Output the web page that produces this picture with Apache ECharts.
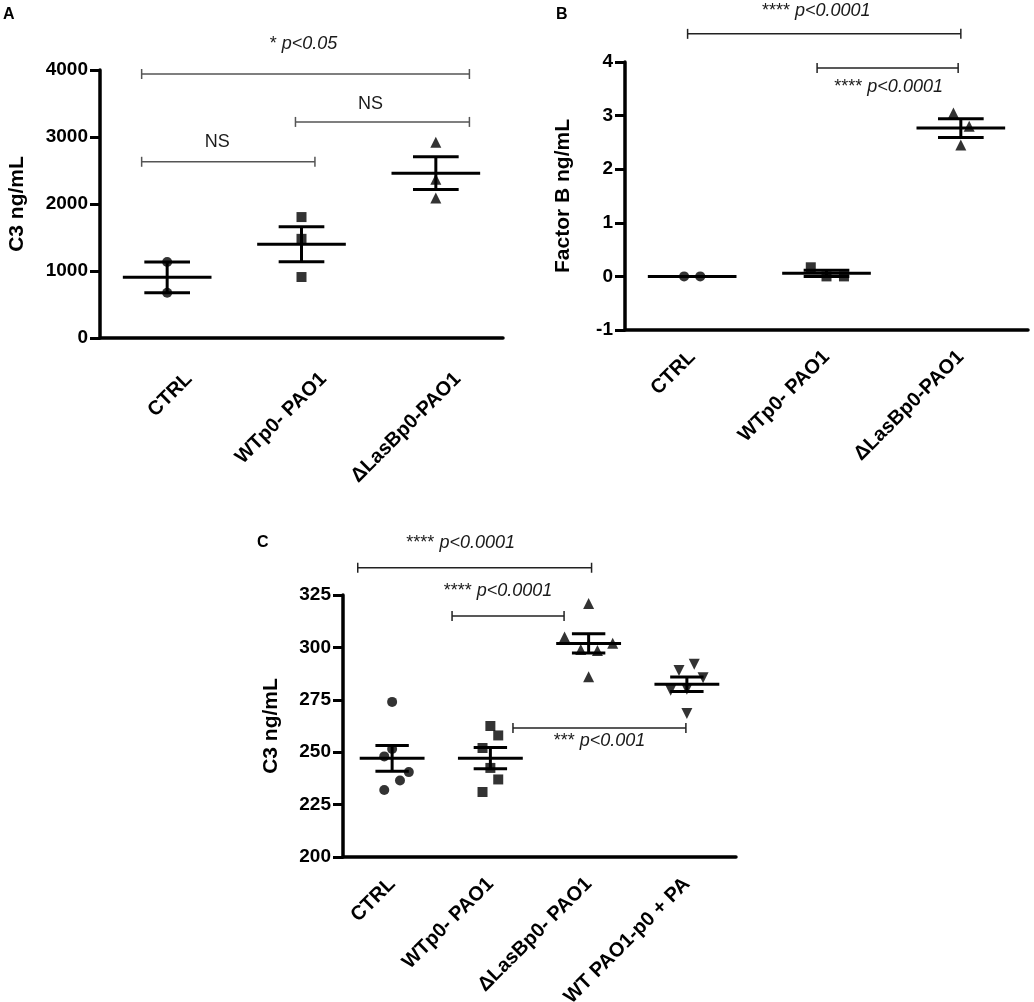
<!DOCTYPE html>
<html>
<head>
<meta charset="utf-8">
<title>C3 and Factor B</title>
<script src="https://cdn.jsdelivr.net/npm/echarts@6.0.0/dist/echarts.min.js"></script>
<style>
html, body { margin: 0; padding: 0; background: #fff; }
#chart { width: 1034px; height: 1002px; }
</style>
</head>
<body>
<div id="chart"></div>
<script>
var fontFam = '"Liberation Sans", Arial, Helvetica, sans-serif';

// ---- panel A : C3 ----
var aCategories = ['CTRL', 'WTp0- PAO1', '\u0394LasBp0-PAO1'];
var aCtrl = [1135, 675];
var aWt = [1805, 1480, 910];
var aLasB = [2920, 2370, 2090];
var aTicks = [0, 1000, 2000, 3000, 4000];
// comparisons: [from, to, height, text]
var aComparisons = [
    [-0.19, 2.25, 3940, '* p<0.05'],
    [-0.19, 1.10, 2630, 'NS'],
    [0.955, 2.25, 3225, 'NS']
];

// ---- panel B : Factor B ----
var bCategories = ['CTRL', 'WTp0- PAO1', '\u0394LasBp0-PAO1'];
var bCtrl = [0, 0];
var bWt = [0.17, 0, 0];
var bLasB = [3.05, 2.80, 2.45];
var bTicks = [-1, 0, 1, 2, 3, 4];
var bComparisons = [
    [-0.034, 2.0, 4.525, '**** p<0.0001'],
    [0.93, 1.98, 3.89, '**** p<0.0001']
];

// ---- panel C : C3 ----
var cCategories = ['CTRL', 'WTp0- PAO1', '\u0394LasBp0- PAO1', 'WT PAO1-p0 + PA'];
var cCtrl = [274, 251.5, 248, 240.5, 236.5, 232];
var cWt = [262.5, 258, 252, 242.5, 237, 231];
var cLasB = [321, 305, 302, 299, 298.5, 286];
var cPa = [289, 292, 285.5, 279.5, 280, 268.5];
var cTicks = [200, 225, 250, 275, 300, 325];
var cComparisons = [
    [-0.35, 2.03, 338, '**** p<0.0001'],
    [0.61, 1.75, 315, '**** p<0.0001'],
    [1.23, 2.99, 261.5, '*** p<0.001']
];

// horizontal scatter of the points (fraction of a category)
var bCtrlJitter = [-0.06, 0.06];
var bWtJitter = [-0.117, 0, 0.13];
var bLasBJitter = [-0.055, 0.062, 0];
var cCtrlJitter = [0, 0, -0.08, 0.17, 0.08, -0.08];
var cWtJitter = [0, 0.08, -0.08, 0, 0.08, -0.08];
var cLasBJitter = [0, -0.245, 0.245, -0.08, 0.09, 0];
var cPaJitter = [-0.08, 0.075, 0.165, -0.165, 0, 0];

var panels = [
    {
        tag: 'A', tagPos: [3, 7],
        grid: {left: 100, top: 70, width: 403, height: 268},
        categories: aCategories, ticks: aTicks,
        groups: [
            {values: aCtrl, symbol: 'circle'},
            {values: aWt, symbol: 'rect'},
            {values: aLasB, symbol: 'triangle'}
        ],
        yName: 'C3 ng/mL', nameGap: 72,
        // rotated tick label placement
        catLabel: {margin: 16, verticalAlign: 'top', padding: [21, 0, 0, 0]},
        comparisons: aComparisons,
        textShift: [[-2, -30], [-11, -20], [-12, -18]],
        bracketColor: '#555'
    },
    {
        tag: 'B', tagPos: [556, 7],
        grid: {left: 625, top: 62, width: 403, height: 268},
        categories: bCategories, ticks: bTicks,
        groups: [
            {values: bCtrl, jitter: bCtrlJitter, symbol: 'circle'},
            {values: bWt, jitter: bWtJitter, symbol: 'rect'},
            {values: bLasB, jitter: bLasBJitter, symbol: 'triangle'}
        ],
        yName: 'Factor B ng/mL', nameGap: 51,
        catLabel: {margin: 24, verticalAlign: 'middle', padding: 0},
        comparisons: bComparisons,
        textShift: [[-8, -23], [1, 19]],
        bracketColor: '#222'
    },
    {
        tag: 'C', tagPos: [257, 535],
        grid: {left: 343, top: 595, width: 393, height: 262},
        categories: cCategories, ticks: cTicks,
        groups: [
            {values: cCtrl, jitter: cCtrlJitter, symbol: 'circle'},
            {values: cWt, jitter: cWtJitter, symbol: 'rect'},
            {values: cLasB, jitter: cLasBJitter, symbol: 'triangle'},
            {values: cPa, jitter: cPaJitter, symbol: 'triangle', rotate: 180}
        ],
        yName: 'C3 ng/mL', nameGap: 61,
        catLabel: {margin: 24, verticalAlign: 'middle', padding: 0},
        comparisons: cComparisons,
        textShift: [[-14, -25], [-10, -25], [0, 13]],
        bracketColor: '#222'
    }
];

function mean(arr) {
    var s = 0;
    for (var i = 0; i < arr.length; i++) s += arr[i];
    return s / arr.length;
}
function sem(arr) {
    var m = mean(arr), s = 0;
    for (var i = 0; i < arr.length; i++) s += (arr[i] - m) * (arr[i] - m);
    return Math.sqrt(s / (arr.length - 1)) / Math.sqrt(arr.length);
}

function hline(x1, x2, y, color, w) {
    return {type: 'line', shape: {x1: x1, y1: y, x2: x2, y2: y}, style: {stroke: color, lineWidth: w}};
}
function vline(x, y1, y2, color, w) {
    return {type: 'line', shape: {x1: x, y1: y1, x2: x, y2: y2}, style: {stroke: color, lineWidth: w}};
}

// mean line + SEM whiskers
function renderStats(params, api) {
    var x = api.value(0), m = api.value(1), s = api.value(2);
    var unit = api.size([1, 0])[0];
    var mid = api.coord([x, m]);
    var top = api.coord([x, m + s])[1];
    var bot = api.coord([x, m - s])[1];
    var hm = unit * 0.33, hc = unit * 0.17;
    return {
        type: 'group',
        children: [
            hline(mid[0] - hm, mid[0] + hm, mid[1], '#000', 3),
            hline(mid[0] - hc, mid[0] + hc, top, '#000', 3),
            hline(mid[0] - hc, mid[0] + hc, bot, '#000', 3),
            vline(mid[0], top, bot, '#000', 3)
        ]
    };
}

function makeBracketRender(p) {
    return function (params, api) {
        var c = p.comparisons[params.dataIndex];
        var sh = p.textShift[params.dataIndex];
        var l = api.coord([api.value(0), api.value(2)]);
        var r = api.coord([api.value(1), api.value(2)]);
        var y = l[1];
        var txt = c[3];
        var k = txt.indexOf(' ');
        if (txt.indexOf('p<') >= 0) {
            txt = '{s|' + txt.slice(0, k) + '} {i|' + txt.slice(k + 1) + '}';
        }
        return {
            type: 'group',
            children: [
                hline(l[0], r[0], y, p.bracketColor, 1.5),
                vline(l[0], y - 5, y + 5, p.bracketColor, 1.5),
                vline(r[0], y - 5, y + 5, p.bracketColor, 1.5),
                {
                    type: 'text',
                    style: {
                        x: (l[0] + r[0]) / 2 + sh[0],
                        y: y + sh[1],
                        text: txt,
                        align: 'center',
                        verticalAlign: 'middle',
                        fill: '#1a1a1a',
                        fontSize: 18,
                        fontFamily: fontFam,
                        rich: {
                            s: {fontSize: 18, fontFamily: fontFam, fill: '#1a1a1a'},
                            i: {fontSize: 18, fontFamily: fontFam, fontStyle: 'italic', fill: '#1a1a1a'}
                        }
                    }
                }
            ]
        };
    };
}

var option = {
    animation: false,
    backgroundColor: '#fff',
    title: [],
    grid: [],
    xAxis: [],
    yAxis: [],
    series: []
};

panels.forEach(function (p, i) {
    var n = p.categories.length;
    var g = p.grid;
    option.title.push({
        text: p.tag, left: p.tagPos[0], top: p.tagPos[1], padding: 0,
        textStyle: {fontSize: 16, fontWeight: 'bold', fontFamily: fontFam, color: '#000'}
    });
    option.grid.push({left: g.left, top: g.top, width: g.width, height: g.height,
        containLabel: false, outerBoundsMode: 'none'});
    // visible category axis
    option.xAxis.push({
        type: 'category', gridIndex: i, data: p.categories, boundaryGap: true,
        axisLine: {onZero: false, lineStyle: {color: '#000', width: 3.5}},
        axisTick: {alignWithLabel: true, length: 10, lineStyle: {color: '#000', width: 3}},
        axisLabel: {
            interval: 0, rotate: 45, margin: p.catLabel.margin, align: 'right',
            verticalAlign: p.catLabel.verticalAlign, padding: p.catLabel.padding,
            fontSize: 20, fontWeight: 'bold', fontFamily: fontFam, color: '#000'
        },
        splitLine: {show: false}
    });
    // hidden numeric axis used to place points with jitter
    option.xAxis.push({
        type: 'value', gridIndex: i, min: -0.5, max: n - 0.5, show: false
    });
    var t = p.ticks;
    option.yAxis.push({
        type: 'value', gridIndex: i,
        min: t[0], max: t[t.length - 1], interval: t[1] - t[0],
        name: p.yName, nameLocation: 'middle', nameGap: p.nameGap, nameMoveOverlap: false,
        nameTextStyle: {fontSize: 21, fontWeight: 'bold', fontFamily: fontFam, color: '#000'},
        axisLine: {show: true, onZero: false, lineStyle: {color: '#000', width: 3.5}},
        axisTick: {show: true, length: 10, lineStyle: {color: '#000', width: 3}},
        axisLabel: {
            margin: 12, fontSize: 19, fontWeight: 'bold', fontFamily: fontFam, color: '#000',
            formatter: function (v) { return String(v); }
        },
        splitLine: {show: false}
    });
    var xv = i * 2 + 1;
    var stats = [];
    p.groups.forEach(function (grp, gi) {
        var pts = grp.values.map(function (v, k) {
            return [gi + (grp.jitter ? grp.jitter[k] : 0), v];
        });
        option.series.push({
            type: 'scatter', xAxisIndex: xv, yAxisIndex: i,
            symbol: grp.symbol, symbolSize: grp.symbol === 'triangle' ? 11 : 10,
            symbolRotate: grp.rotate || 0,
            itemStyle: {color: '#000'},
            data: pts, z: 2
        });
        stats.push([gi, mean(grp.values), sem(grp.values)]);
    });
    option.series.push({
        type: 'custom', xAxisIndex: xv, yAxisIndex: i,
        renderItem: renderStats, data: stats, clip: false, z: 3
    });
    option.series.push({
        type: 'custom', xAxisIndex: xv, yAxisIndex: i,
        renderItem: makeBracketRender(p),
        data: p.comparisons.map(function (c) { return [c[0], c[1], c[2]]; }),
        clip: false, z: 3
    });
});

var myChart = echarts.init(document.getElementById('chart'));
myChart.setOption(option);
</script>
</body>
</html>
